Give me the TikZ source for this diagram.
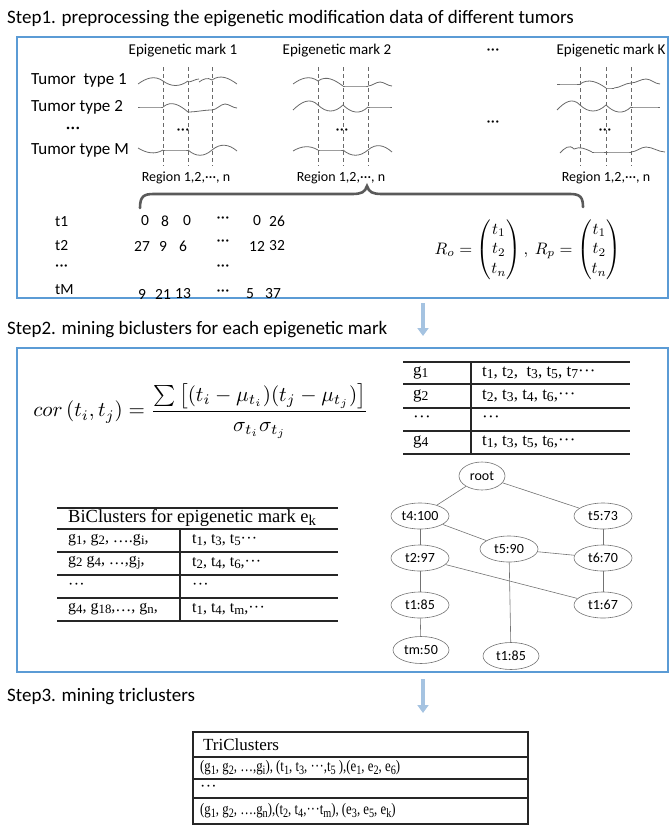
\documentclass[tikz,border=0pt]{standalone}
\usepackage{fontspec}
\setmainfont{Carlito}
\newfontfamily\tnr{Liberation Serif}
\usepackage{graphicx}
\usepackage{amsmath}
\usetikzlibrary{arrows.meta,shapes.geometric}
\definecolor{boxblue}{RGB}{91,155,213}
\definecolor{arrblue}{RGB}{165,195,225}
\definecolor{wavegray}{RGB}{105,105,105}
\definecolor{bracegray}{RGB}{90,90,90}
\newcommand\fsz[1]{\fontsize{#1}{#1}\selectfont}
\newcommand\mdots{\textperiodcentered\kern0.3pt\textperiodcentered\kern0.3pt\textperiodcentered}
\newcommand\lo[1]{\raisebox{-0.3ex}{\scalebox{0.8}{#1}}}
\newcommand\wv[5]{\draw[wave] (#1,#3) .. controls ({#1+(#2-#1)*0.33},{#3-#5}) and ({#2-(#2-#1)*0.33},{#4-#5}) .. (#2,#4);}
\tikzset{
  bluebox/.style={draw=boxblue, line width=2.2pt},
  heading/.style={anchor=west, font=\fsz{19}, inner sep=0pt},
  marklab/.style={font=\fsz{15}, inner sep=0pt},
  tumlab/.style={anchor=west, font=\fsz{17}, inner sep=0pt},
  reglab/.style={font=\fsz{14}, inner sep=0pt},
  num/.style={font=\fsz{15.5}, inner sep=0pt},
  dotlab/.style={font=\fsz{16}, inner sep=0pt},
  wave/.style={draw=wavegray, line width=0.8pt},
  dashline/.style={draw=wavegray, dashed, dash pattern=on 4pt off 3pt, line width=0.6pt},
  bigarrow/.style={draw=arrblue, line width=3.5pt, -{Triangle[width=11pt,length=8pt]}},
  tabline/.style={draw=black!85, line width=1.1pt},
  tabtxt/.style={anchor=west, font=\tnr\fsz{16}, inner sep=0pt},
  tnode/.style={draw=black!55, ellipse, line width=0.6pt, minimum width=58pt, minimum height=26pt, inner sep=0pt, font=\fsz{14}},
  tedge/.style={draw=black!55, line width=0.6pt},
}
\begin{document}
\begin{tikzpicture}[x=1pt,y=-1pt]
\useasboundingbox (0,0) rectangle (671,827);

% ---------- Step 1 ----------
\node[heading] (s1) at (7,19) {Step1. preprocessing the epigenetic modification data of different tumors};
\draw[bluebox] (17,37) rectangle (668,298);

\node[marklab] (m1) at (183,51) {Epigenetic mark 1};
\node[marklab] (m2) at (337,51) {Epigenetic mark 2};
\node[dotlab] (mdots) at (493,52) {\mdots};
\node[marklab] (mk) at (611,51) {Epigenetic mark K};

\node[tumlab] (tt1) at (31,80) {Tumor\ \ type 1};
\node[tumlab] (tt2) at (31,107) {Tumor type 2};
\node[dotlab, font=\fsz{18}] (ttd) at (73,130) {\mdots};
\node[tumlab] (ttm) at (31,150) {Tumor type M};

\foreach \x in {163,188,212,318,343,368,580,606,631}
  \draw[dashline] (\x,67) -- (\x,166);

% mark 1 waves
\wv{138}{163}{84}{81}{6}
\wv{163}{188}{81}{81}{-6}
\wv{188}{199}{82}{79}{0}
\wv{199}{212}{82}{80}{3}
\wv{212}{237}{80}{84}{6}
\wv{138}{163}{107}{107}{0}
\wv{163}{188}{107}{112}{7}
\wv{188}{212}{112}{110}{0}
\wv{212}{225}{110}{104}{0}
\wv{225}{237}{104}{108}{0}
\wv{138}{163}{148}{150}{-5}
\wv{163}{188}{150}{150}{0}
\wv{188}{212}{150}{150}{-7}
\wv{212}{237}{150}{151}{7}
% mark 2 waves
\wv{293}{318}{84}{81}{6}
\wv{318}{343}{81}{86}{6}
\wv{343}{368}{86}{86}{0}
\wv{368}{380}{86}{82}{0}
\wv{380}{392}{82}{86}{0}
\wv{293}{318}{110}{105}{8}
\wv{318}{343}{105}{105}{-8}
\wv{343}{368}{105}{107}{-8}
\wv{368}{392}{107}{107}{0}
\wv{293}{318}{151}{150}{5}
\wv{318}{343}{150}{150}{0}
\wv{343}{368}{150}{150}{-7}
\wv{368}{392}{150}{152}{7}
% mark K waves
\wv{557}{580}{84}{84}{0}
\wv{580}{606}{84}{88}{6}
\wv{606}{614}{88}{88}{0}
\wv{614}{631}{88}{83}{0}
\wv{631}{646}{83}{79}{0}
\wv{646}{660}{79}{84}{0}
\wv{557}{580}{110}{105}{8}
\wv{580}{606}{105}{105}{-8}
\wv{606}{631}{105}{107}{-8}
\wv{631}{660}{107}{107}{0}
\wv{560}{574}{153}{149}{5}
\wv{574}{592}{149}{152}{3}
\wv{592}{606}{152}{152}{0}
\wv{606}{631}{152}{152}{0}
\wv{631}{646}{152}{147}{0}
\wv{646}{665}{147}{152}{0}

\node[dotlab] (d1) at (183,132) {\mdots};
\node[dotlab] (d2) at (342,132) {\mdots};
\node[dotlab] (dm) at (493,124) {\mdots};
\node[dotlab] (dk) at (605,132) {\mdots};

\node[reglab] (r1) at (186,178) {Region 1,2,\mdots, n};
\node[reglab] (r2) at (341,178) {Region 1,2,\mdots, n};
\node[reglab] (rk) at (606,178) {Region 1,2,\mdots, n};

% brace
\draw[bracegray, line width=2.6pt, line cap=round]
  (140,208) .. controls (140,196) and (144,194) .. (154,194)
  -- (352,194) .. controls (362,194) and (365,192) .. (367,186)
  .. controls (369,192) and (372,194) .. (382,194)
  -- (570,194) .. controls (580,194) and (583,197) .. (583,207);

% matrix
\node[anchor=west, num] (rt1) at (55,222) {t1};
\node[anchor=west, num] (rt2) at (55,246) {t2};
\node[anchor=west, dotlab] (rtd) at (55,268) {\mdots};
\node[anchor=west, num] (rtm) at (55,290) {tM};
\foreach \x/\v [count=\i] in {145/0,165/8,187/0,257/0,277/26}
  \node[num] (a\i) at (\x,221) {\v};
\foreach \x/\v [count=\i] in {142/27,163/9,183/6,257/12,277/32}
  \node[num] (b\i) at (\x,246) {\v};
\foreach \x/\v [count=\i] in {142/9,163/21,183/13,250/5,273/37}
  \node[num] (c\i) at (\x,294) {\v};
\node[dotlab] (ad) at (223,220) {\mdots};
\node[dotlab] (bd) at (223,243) {\mdots};
\node[dotlab] (dd) at (223,268) {\mdots};
\node[dotlab] (cd) at (223,293) {\mdots};

\node (R) at (528,250) {\scalebox{1.66}{$R_o=\begin{pmatrix}t_1\\t_2\\t_n\end{pmatrix},\ R_p=\begin{pmatrix}t_1\\t_2\\t_n\end{pmatrix}$}};

% ---------- Step 2 ----------
\coordinate (a1s) at (423,303);
\coordinate (a1e) at (423,336);
\draw[bigarrow] (a1s) -- (a1e);
\node[heading] (s2) at (7,330) {Step2. mining biclusters for each epigenetic mark};
\draw[bluebox] (17,348) rectangle (668,672);

\node (cor) at (201,411) {\scalebox{2.1}{$cor\left(t_i,t_j\right)=\dfrac{\sum\left[(t_i-\mu_{t_i})(t_j-\mu_{t_j})\right]}{\sigma_{t_i}\sigma_{t_j}}$}};

% top-right table
\foreach \y in {362,384,408,431,454} \draw[tabline] (403,\y) -- (630,\y);
\draw[tabline] (471,362) -- (471,454);
\node[tabtxt, font=\tnr\fsz{17}] (g1) at (413,373) {g\lo{1}};
\node[tabtxt, font=\tnr\fsz{17}] (g2) at (413,396) {g\lo{2}};
\node[tabtxt, font=\tnr\fsz{17}] (g3) at (413,419) {\mdots};
\node[tabtxt, font=\tnr\fsz{17}] (g4) at (413,442) {g\lo{4}};
\node[tabtxt, font=\tnr\fsz{17}] (h1) at (482,373) {t\lo{1}, t\lo{2},\ \ t\lo{3}, t\lo{5}, t\lo{7}\mdots};
\node[tabtxt, font=\tnr\fsz{17}] (h2) at (482,396) {t\lo{2}, t\lo{3}, t\lo{4}, t\lo{6},\mdots};
\node[tabtxt, font=\tnr\fsz{17}] (h3) at (482,419) {\mdots};
\node[tabtxt, font=\tnr\fsz{17}] (h4) at (482,442) {t\lo{1}, t\lo{3}, t\lo{5}, t\lo{6},\mdots};

% biclusters table
\foreach \y in {508,529,552,575,598,621} \draw[tabline] (57,\y) -- (338,\y);
\draw[tabline] (180,529) -- (180,621);
\node[tabtxt, font=\tnr\fsz{18.5}] (bh) at (68,518) {BiClusters for epigenetic mark e\lo{k}};
\node[tabtxt] (p1) at (68,540) {g\lo{1}, g\lo{2}, \ldots.g\lo{i},};
\node[tabtxt] (p2) at (68,563) {g\lo{2} g\lo{4}, \ldots,g\lo{j},};
\node[tabtxt] (p3) at (68,586) {\mdots};
\node[tabtxt] (p4) at (68,609) {g\lo{4}, g\lo{18},\ldots, g\lo{n},};
\node[tabtxt] (q1) at (192,540) {t\lo{1}, t\lo{3}, t\lo{5}\mdots};
\node[tabtxt] (q2) at (192,563) {t\lo{2}, t\lo{4}, t\lo{6},\mdots};
\node[tabtxt] (q3) at (192,586) {\mdots};
\node[tabtxt] (q4) at (192,609) {t\lo{1}, t\lo{4}, t\lo{m},\mdots};

% tree
\node[tnode, minimum width=46pt, minimum height=28pt] (root) at (482,476) {root};
\node[tnode] (t4) at (420,516) {t4:100};
\node[tnode] (t5a) at (603,516) {t5:73};
\node[tnode] (t5b) at (509,549) {t5:90};
\node[tnode] (t2) at (420,558) {t2:97};
\node[tnode] (t6) at (603,558) {t6:70};
\node[tnode] (t1a) at (420,605) {t1:85};
\node[tnode] (t1b) at (603,605) {t1:67};
\node[tnode, minimum width=56pt, minimum height=27pt] (tm) at (421,650) {tm:50};
\node[tnode, minimum width=56pt, minimum height=27pt] (t1c) at (511,656) {t1:85};
\draw[tedge] (root) -- (t4);
\draw[tedge] (root) -- (t5a);
\draw[tedge] (t4) -- (t2);
\draw[tedge] (t4) -- (t5b);
\draw[tedge] (t5b) -- (t6);
\draw[tedge] (t5a) -- (t6);
\draw[tedge] (t2) -- (t1a);
\draw[tedge] (t2) -- (t1b);
\draw[tedge] (t6) -- (t1b);
\draw[tedge] (t1a) -- (tm);
\draw[tedge] (t5b) -- (t1c);

% ---------- Step 3 ----------
\coordinate (a2s) at (423,679);
\coordinate (a2e) at (423,713);
\draw[bigarrow] (a2s) -- (a2e);
\node[heading] (s3) at (7,697) {Step3. mining triclusters};

\draw[tabline] (193,732) rectangle (528,824);
\foreach \y in {757,779,798} \draw[tabline] (193,\y) -- (528,\y);
\node[tabtxt, font=\tnr\fsz{17}] (tc) at (203,745) {TriClusters};
\node[tabtxt, font=\tnr\fsz{16}] (tr1) at (200,768) {\scalebox{0.8}[1]{(g\lo{1}, g\lo{2}, \ldots,g\lo{i}), (t\lo{1}, t\lo{3}, \mdots,t\lo{5} ),(e\lo{1}, e\lo{2}, e\lo{6})}};
\node[tabtxt, font=\tnr\fsz{16}] (tr2) at (200,788) {\mdots};
\node[tabtxt, font=\tnr\fsz{16}] (tr3) at (200,811) {\scalebox{0.8}[1]{(g\lo{1}, g\lo{2}, \ldots.g\lo{n}),(t\lo{2}, t\lo{4},\mdots t\lo{m}), (e\lo{3}, e\lo{5}, e\lo{k})}};
\end{tikzpicture}
\end{document}
